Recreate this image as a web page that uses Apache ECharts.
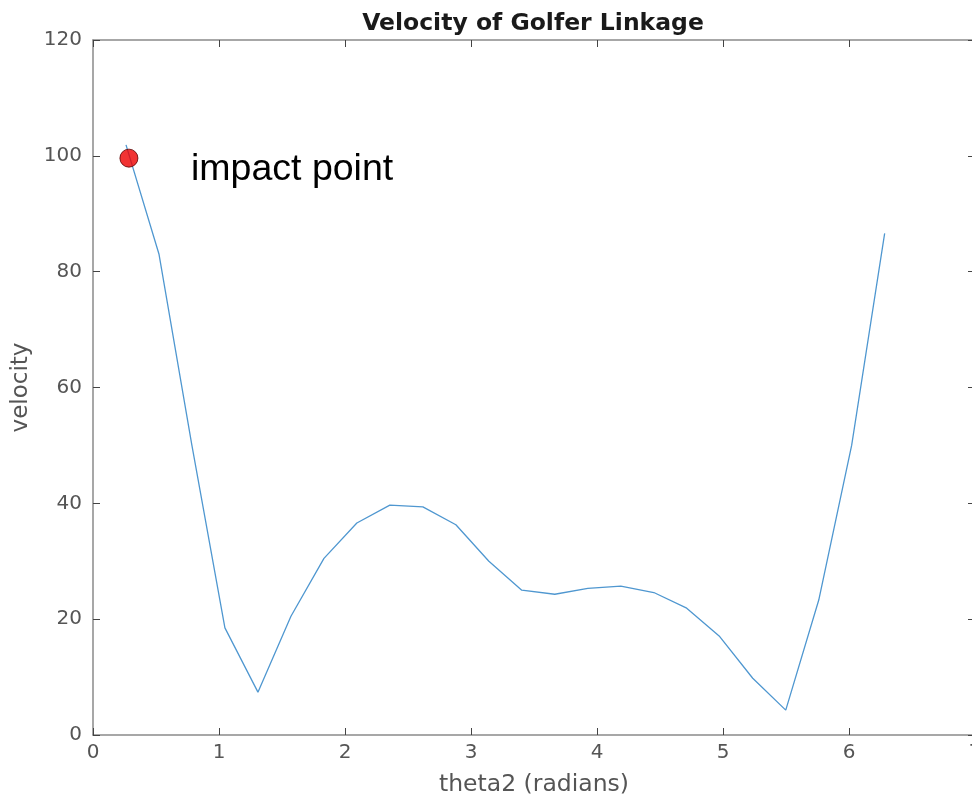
<!DOCTYPE html>
<html>
<head>
<meta charset="utf-8">
<script src="https://cdn.jsdelivr.net/npm/echarts@6/dist/echarts.min.js"></script>
<style>
html,body{margin:0;padding:0;background:#fff;}
#chart{width:972px;height:800px;}
</style>
</head>
<body>
<div id="chart"></div>
<script>
// theta2 (radians)
const theta2 = [0.262, 0.524, 0.785, 1.047, 1.309, 1.571, 1.833, 2.094, 2.356, 2.618, 2.880, 3.142,
                3.403, 3.665, 3.927, 4.189, 4.451, 4.712, 4.974, 5.236, 5.498, 5.760, 6.021, 6.283];
// velocity
const velocity = [101.9, 83.0, 50.0, 18.5, 7.4, 20.5, 30.5, 36.6, 39.7, 39.4, 36.3, 30.0,
                  25.0, 24.3, 25.3, 25.7, 24.6, 21.9, 17.0, 9.8, 4.3, 23.3, 50.0, 86.6];
const impactPoint = [0.285, 99.6];
const annotationPos = [0.778, 97.6];
const annotationText = 'impact point';
const xTicks = [0, 1, 2, 3, 4, 5, 6, 7];
const yTicks = [0, 20, 40, 60, 80, 100, 120];

const chart = echarts.init(document.getElementById('chart'), null, {renderer: 'canvas'});
const axisColor = '#8a8a8a';
const labelColor = '#555555';
const font = 'DejaVu Sans';

const baseAxis = {
  axisLine: {show: true, onZero: false, lineStyle: {color: axisColor, width: 1.5}},
  axisTick: {show: true, inside: true, length: 7, lineStyle: {color: '#444', width: 1}},
  splitLine: {show: false}
};

option = {
  animation: false,
  backgroundColor: '#ffffff',
  title: {
    text: 'Velocity of Golfer Linkage',
    left: 528, top: 7, textAlign: 'center',
    textStyle: {fontFamily: font, fontWeight: 'bold', fontSize: 23.5, color: '#1a1a1a'}
  },
  grid: {left: 93, width: 882, top: 40, height: 695, containLabel: false, outerBoundsMode: 'none'},
  xAxis: [
    Object.assign({}, baseAxis, {
      type: 'value', min: xTicks[0], max: xTicks[xTicks.length - 1], interval: 1,
      position: 'bottom',
      name: 'theta2 (radians)', nameLocation: 'middle', nameGap: 38,
      nameTextStyle: {fontFamily: font, fontSize: 23.5, color: labelColor},
      axisLabel: {fontFamily: font, fontSize: 20, color: labelColor, margin: 8}
    }),
    Object.assign({}, baseAxis, {
      type: 'value', min: xTicks[0], max: xTicks[xTicks.length - 1], interval: 1,
      position: 'top', axisLabel: {show: false}
    })
  ],
  yAxis: [
    Object.assign({}, baseAxis, {
      type: 'value', min: yTicks[0], max: yTicks[yTicks.length - 1], interval: 20,
      position: 'left',
      name: 'velocity', nameLocation: 'middle', nameGap: 54, nameRotate: 90,
      nameTextStyle: {fontFamily: font, fontSize: 23, color: labelColor},
      axisLabel: {fontFamily: font, fontSize: 20, color: labelColor, margin: 11}
    }),
    Object.assign({}, baseAxis, {
      type: 'value', min: yTicks[0], max: yTicks[yTicks.length - 1], interval: 20,
      position: 'right', axisLabel: {show: false}
    })
  ],
  series: [
    {
      type: 'line',
      data: theta2.map((t, i) => [t, velocity[i]]),
      showSymbol: false, symbol: 'none',
      lineStyle: {color: '#4f97d0', width: 1.3},
      z: 2
    },
    {
      type: 'scatter',
      data: [impactPoint],
      symbol: 'circle', symbolSize: 18,
      itemStyle: {color: '#ee0000', borderColor: '#5a0000', borderWidth: 1},
      z: 3
    },
    {
      type: 'scatter',
      data: [annotationPos],
      symbolSize: 0,
      itemStyle: {opacity: 1},
      label: {
        show: true, position: [0, 0], align: 'left', verticalAlign: 'middle',
        formatter: annotationText,
        fontFamily: 'Liberation Sans', fontSize: 37.5, color: '#000000', opacity: 1
      },
      z: 3
    }
  ]
};
chart.setOption(option);
</script>
</body>
</html>
